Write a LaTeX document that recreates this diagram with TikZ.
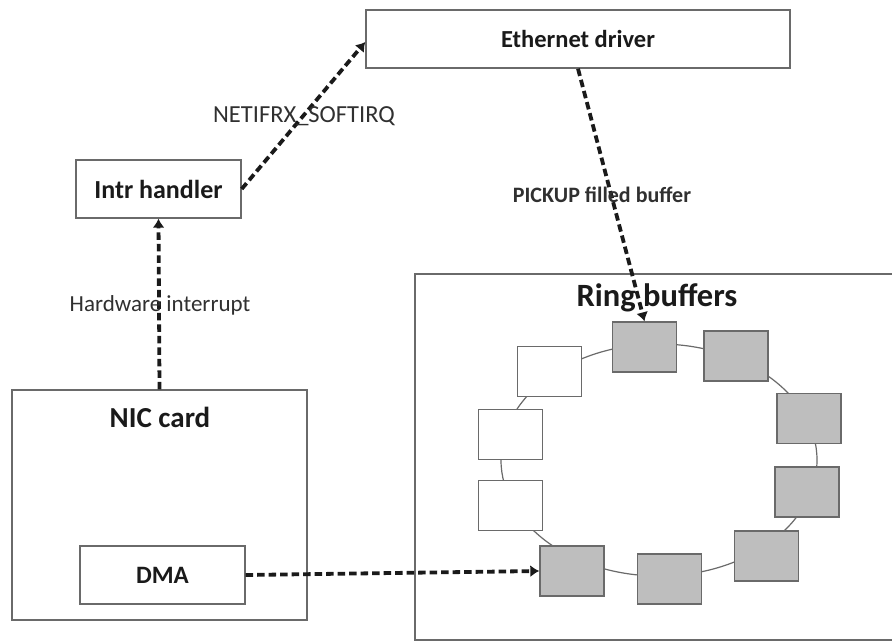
\documentclass[tikz,border=0pt]{standalone}
\usepackage{fontspec}
\setmainfont{Carlito}
\usetikzlibrary{arrows.meta}
\definecolor{edge}{HTML}{6A6A6A}
\definecolor{cellfill}{HTML}{BEBEBE}
\definecolor{ink}{HTML}{1A1A1A}
\definecolor{labelink}{HTML}{303030}
\begin{document}
\begin{tikzpicture}[x=1pt,y=-1pt,
  box/.style={draw=edge, line width=1.4pt, fill=white, inner sep=0pt, text=ink},
  cell/.style={draw=edge, line width=1.4pt, fill=cellfill, minimum width=64pt, minimum height=50pt, inner sep=0pt},
  freecell/.style={cell, fill=white},
  flow/.style={draw=ink, line width=3.8pt, dash pattern=on 7.5pt off 4pt, -{Latex[length=9pt,width=12pt]}},
  title/.style={font=\bfseries, text=ink, inner sep=0pt},
  lbl/.style={text=labelink, inner sep=0pt}
]
\useasboundingbox (0,0) rectangle (892,643);
\clip (0,0) rectangle (892,643);

% outer containers
\node[box, minimum width=485pt, minimum height=366pt] (ring) at (657.5,457) {};
\node[box, minimum width=295pt, minimum height=230pt] (nic) at (159.5,505) {};
\node[title, font=\bfseries\fontsize{32.5}{34}\selectfont] (ringtitle) at (657,298) {Ring buffers};
\node[title, font=\bfseries\fontsize{29}{31}\selectfont] (nictitle) at (160,417) {NIC card};

% software boxes
\node[box, minimum width=424pt, minimum height=58pt, font=\bfseries\fontsize{24.5}{26}\selectfont] (eth) at (578,39) {Ethernet driver};
\node[box, minimum width=165pt, minimum height=58pt, font=\bfseries\fontsize{26}{28}\selectfont] (intr) at (158.5,189) {Intr handler};
\node[box, minimum width=165pt, minimum height=58pt, font=\bfseries\fontsize{25}{27}\selectfont] (dma) at (162.5,575) {DMA};

% ring of buffers
\draw[edge, line width=1.2pt] (659,460) ellipse [x radius=158pt, y radius=116pt];
\node[cell] (r1) at (644.5,347) {};
\node[cell] (r2) at (736,356) {};
\node[cell] (r3) at (809,418.5) {};
\node[cell] (r4) at (807,492) {};
\node[cell] (r5) at (766.5,556) {};
\node[cell] (r6) at (669.5,579) {};
\node[cell] (r7) at (572,571) {};
\node[freecell] (r8) at (510.5,505.5) {};
\node[freecell] (r9) at (510.5,434.5) {};
\node[freecell] (r10) at (549.5,371.5) {};

% flows
\path[flow] (nic.north) -- (intr.south);
\path[flow] (intr.east) -- ([yshift=-3pt]eth.west);
\path[flow] (eth.south) -- (r1.north);
\path[flow] (dma.east) -- (r7.west);

% flow labels
\node[lbl, font=\fontsize{23}{25}\selectfont] (hwlbl) at (160,305) {Hardware interrupt};
\node[lbl, font=\fontsize{24.5}{26}\selectfont] (irqlbl) at (304,116) {NETIFRX\_SOFTIRQ};
\node[lbl, font=\bfseries\fontsize{22}{24}\selectfont] (picklbl) at (602,195) {PICKUP filled buffer};
\end{tikzpicture}
\end{document}
